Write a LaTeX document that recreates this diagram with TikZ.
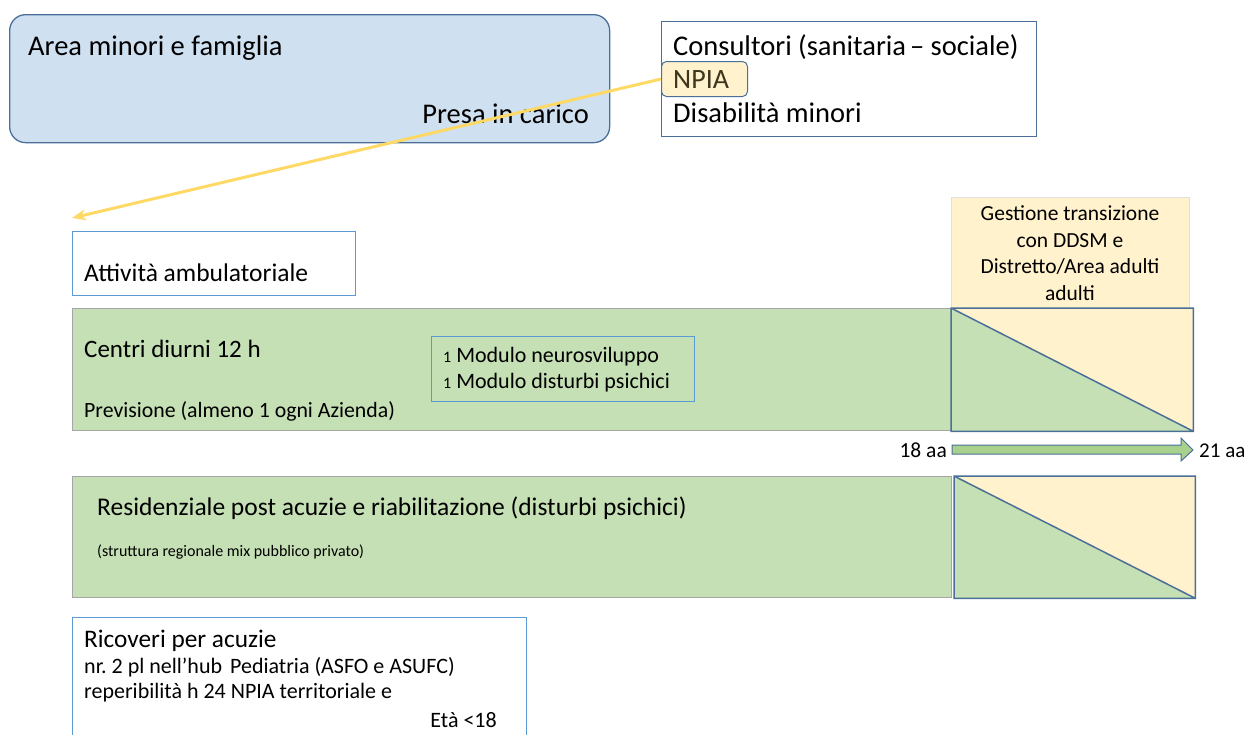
\documentclass[tikz,border=0pt]{standalone}
\usepackage{fontspec}
\setmainfont{Carlito}
\usetikzlibrary{positioning, arrows.meta}

\definecolor{areafill}{HTML}{CFE0F1}
\definecolor{darkedge}{HTML}{4A6F98}
\definecolor{lightedge}{HTML}{5B9BD5}
\definecolor{greenfill}{HTML}{C5E0B4}
\definecolor{greenarrow}{HTML}{A9D18E}
\definecolor{creamfill}{HTML}{FFF2CC}
\definecolor{goldline}{HTML}{FFD966}
\definecolor{npiatext}{HTML}{3D3720}

\newcommand{\fsz}[1]{\fontsize{#1}{#1}\selectfont}

\tikzset{
  box/.style={anchor=north west, inner sep=0pt, line width=1.3pt},
  greenbox/.style={box, fill=greenfill, draw=gray!70, line width=0.8pt},
  txt/.style={anchor=base west, inner sep=0pt},
}

\begin{document}
\begin{tikzpicture}[x=1pt, y=-1pt]
\useasboundingbox (0,0) rectangle (1250,734);

% top row
\node[box, draw=darkedge, fill=areafill, rounded corners=16pt,
      minimum width=600pt, minimum height=128pt] (area) at (9,14) {};
\node[txt, font=\fsz{28.5}] (areatitle) at (28,55) {Area minori e famiglia};
\node[txt, anchor=base east, font=\fsz{28.5}] (presa) at (589,123) {Presa in carico};

\node[box, draw=darkedge, fill=white, minimum width=375pt, minimum height=115pt] (cons) at (661,21) {};
\node[txt, font=\fsz{28.5}] (constext) at (673,55) {Consultori (sanitaria\kern4pt– sociale)};
\node[box, draw=darkedge, fill=creamfill, line width=1pt, rounded corners=5pt,
      minimum width=86pt, minimum height=35pt] (npia) at (661,61) {};
\node[txt, font=\fsz{28}, text=npiatext] (npiatxt) at (673,88) {NPIA};
\node[txt, font=\fsz{28.5}] (disab) at (673,122) {Disabilità minori};

% ambulatoriale
\node[box, draw=lightedge, minimum width=283pt, minimum height=64pt] (amb) at (72,231) {};
\node[txt, font=\fsz{25.5}] (ambtxt) at (84,281) {Attività ambulatoriale};
\coordinate (ambtop) at (72,218);
\draw[goldline, line width=3pt, -{Stealth[length=14pt, width=11pt]}] (npia.west) -- (ambtop);

% transizione
\node[box, draw=gray!25, fill=creamfill, line width=0.8pt, minimum width=238pt, minimum height=111pt] (gest) at (951,197) {};
\node[align=center, font=\fontsize{21.5}{26.5}\selectfont, inner sep=0pt] (gesttxt) at (1070,253)
  {Gestione transizione\\con DDSM e\\Distretto/Area adulti\\adulti};

% centri diurni
\node[greenbox, minimum width=879pt, minimum height=122pt] (centri) at (72,308) {};
\node[txt, font=\fsz{25}] (centritxt) at (84,357) {Centri diurni 12 h};
\node[txt, font=\fsz{21.8}] (previs) at (84,417) {Previsione (almeno 1 ogni Azienda)};
\node[box, draw=lightedge, line width=1pt, minimum width=263pt, minimum height=65pt] (modulo) at (431,336) {};
\node[txt, font=\fsz{22}] (mod1) at (443,362) {{\fsz{16}1} Modulo neurosviluppo};
\node[txt, font=\fsz{22}] (mod2) at (443,388) {{\fsz{16}1} Modulo disturbi psichici};

\node[box, minimum width=241pt, minimum height=122pt] (transA) at (951,308) {};
\fill[creamfill] (transA.north west) -- (transA.north east) -- (transA.south east) -- cycle;
\fill[greenfill] (transA.north west) -- (transA.south west) -- (transA.south east) -- cycle;
\draw[darkedge, line width=1.5pt] (transA.north west) rectangle (transA.south east)
  (transA.north west) -- (transA.south east);

% eta
\node[txt, anchor=base east, font=\fsz{21.5}] (age18) at (947,457) {18 aa};
\node[txt, font=\fsz{21}] (age21) at (1199,457) {21 aa};
\draw[darkedge, fill=greenarrow, line width=1pt]
  (952,445) -- (1181,445) -- (1181,438) -- (1193,450) -- (1181,461) -- (1181,454) -- (952,454) -- cycle;

% residenziale
\node[greenbox, minimum width=879pt, minimum height=121pt] (resid) at (72,476) {};
\node[txt, font=\fsz{25.5}] (residtxt) at (97,515) {Residenziale post acuzie e riabilitazione (disturbi psichici)};
\node[txt, font=\fsz{16}] (strutt) at (97,556) {(struttura regionale mix pubblico privato)};

\node[box, minimum width=240pt, minimum height=121pt] (transB) at (954,476) {};
\fill[creamfill] (transB.north west) -- (transB.north east) -- (transB.south east) -- cycle;
\fill[greenfill] (transB.north west) -- (transB.south west) -- (transB.south east) -- cycle;
\draw[darkedge, line width=1.5pt] (transB.north west) rectangle (transB.south east)
  (transB.north west) -- (transB.south east);

% ricoveri
\node[box, draw=lightedge, minimum width=454pt, minimum height=125pt] (ricov) at (72,617) {};
\node[txt, font=\fsz{25.3}] (ricovtxt) at (84,647) {Ricoveri per acuzie};
\node[txt, font=\fsz{22}] (ricov2) at (84,673) {nr.\ 2 pl nell’hub\kern3pt{} Pediatria (ASFO e ASUFC)};
\node[txt, font=\fsz{22}] (ricov3) at (84,698) {reperibilità h 24 NPIA territoriale e};
\node[txt, anchor=base east, font=\fsz{22}] (eta) at (497,727) {Età <18};
\end{tikzpicture}
\end{document}
